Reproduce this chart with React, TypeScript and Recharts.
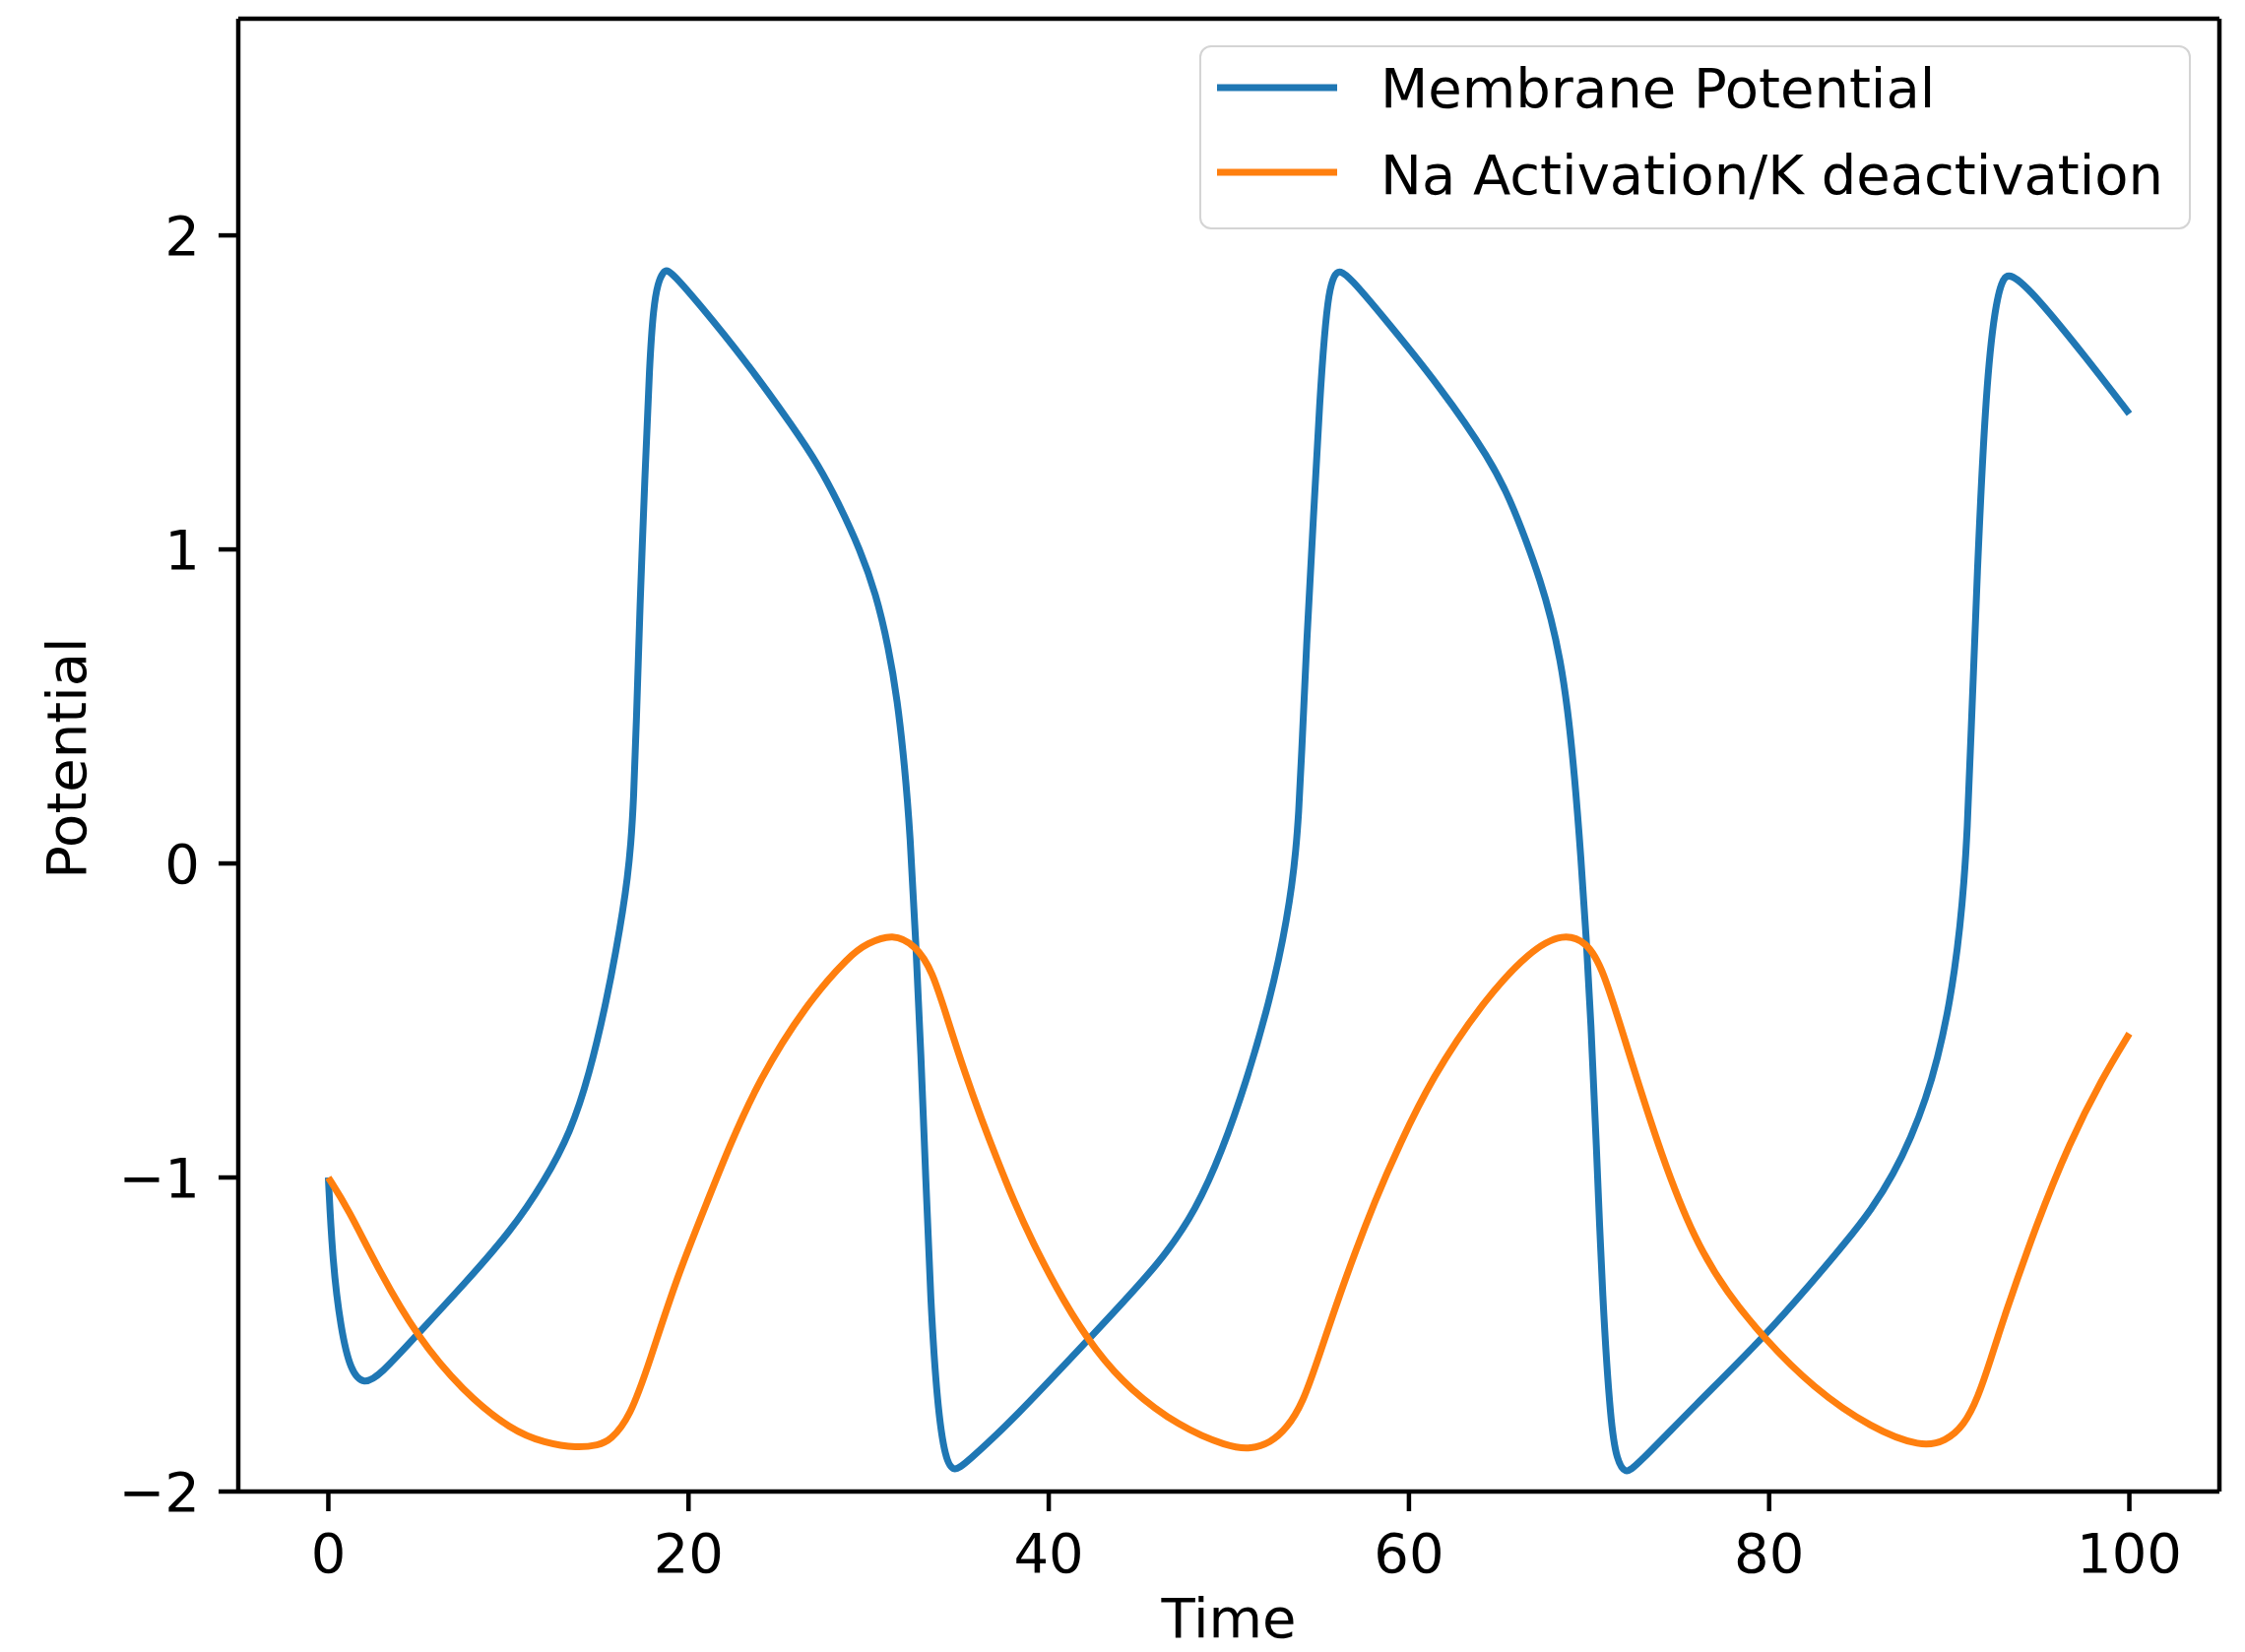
import React from 'react';
import { LineChart, Line, XAxis, YAxis, Legend, ReferenceLine } from 'recharts';

// values
const membraneTime = [
  0, 0.24, 0.69, 1.24, 1.97, 2.88, 4.89, 7.44, 10.18, 12.0, 13.46, 14.5, 15.4, 16.0, 16.35, 16.6, 16.8, 16.95, 17.1,
  17.3, 17.57, 17.84, 18.05, 18.3, 18.6, 18.85, 19.4, 20.4, 23.14, 25.87, 27.2, 28.4, 29.52, 30.4, 31.1, 31.6, 32.0,
  32.3, 32.62, 32.9, 33.17, 33.44, 33.81, 34.26, 34.72, 35.36, 38.1, 42.29, 46.3, 48.2, 49.6, 51.0, 52.15, 52.8,
  53.2, 53.5, 53.72, 53.88, 54.02, 54.33, 54.7, 55.06, 55.3, 55.55, 55.85, 56.16, 56.8, 58.17, 61.81, 64.55, 65.6,
  66.5, 67.3, 67.9, 68.4, 68.8, 69.2, 69.55, 69.85, 70.1, 70.39, 70.75, 71.21, 71.55, 72.0, 72.6, 75.86, 79.69,
  82.43, 84.2, 85.71, 86.9, 87.9, 88.7, 89.36, 89.9, 90.3, 90.6, 90.82, 91.0, 91.19, 91.55, 92.01, 92.46, 92.9,
  93.38, 94.84, 97.57, 100,
];
const membraneValue = [
  -1.0, -1.272, -1.482, -1.618, -1.66, -1.629, -1.503, -1.346, -1.168, -1.012, -0.855, -0.67, -0.45, -0.27, -0.15,
  -0.05, 0.06, 0.2, 0.44, 0.82, 1.22, 1.6, 1.77, 1.85, 1.885, 1.891, 1.86, 1.795, 1.603, 1.385, 1.27, 1.14, 1.0,
  0.86, 0.69, 0.52, 0.31, 0.1, -0.25, -0.6, -1.0, -1.397, -1.727, -1.9, -1.938, -1.912, -1.767, -1.51, -1.266, -1.1,
  -0.92, -0.69, -0.46, -0.3, -0.18, -0.07, 0.04, 0.16, 0.32, 0.72, 1.104, 1.488, 1.68, 1.82, 1.875, 1.891, 1.86,
  1.769, 1.513, 1.283, 1.16, 1.03, 0.9, 0.78, 0.65, 0.5, 0.28, 0.02, -0.24, -0.5, -0.87, -1.397, -1.793, -1.9,
  -1.945, -1.92, -1.727, -1.51, -1.33, -1.21, -1.1, -0.99, -0.87, -0.75, -0.62, -0.48, -0.34, -0.2, -0.06, 0.1, 0.38,
  0.93, 1.484, 1.742, 1.86, 1.884, 1.806, 1.613, 1.432,
];

const recoveryTime = [
  0, 1.06, 2.88, 4.89, 7.44, 10.18, 12.0, 13.83, 15.0, 15.65, 16.75, 17.84, 19.3, 21.13, 22.22, 23.9, 26.5, 29.0,
  29.88, 31.35, 32.62, 33.53, 34.4, 35.36, 36.3, 37.18, 38.1, 39.0, 40.83, 42.65, 44.48, 47.22, 49.96, 51.23, 52.3,
  53.2, 54.1, 55.0, 56.4, 58.2, 59.44, 61.26, 64.0, 66.74, 68.57, 69.84, 70.75, 72.21, 74.04, 75.86, 77.69, 79.69,
  82.43, 85.71, 88.45, 89.8, 90.82, 91.6, 92.3, 93.01, 94.84, 96.66, 98.49, 100,
];
const recoveryValue = [
  -1.0, -1.095, -1.304, -1.503, -1.68, -1.806, -1.845, -1.862, -1.852, -1.838, -1.764, -1.587, -1.325, -1.064,
  -0.907, -0.69, -0.45, -0.29, -0.256, -0.222, -0.262, -0.34, -0.5, -0.67, -0.82, -0.95, -1.08, -1.195, -1.397,
  -1.556, -1.674, -1.793, -1.858, -1.865, -1.845, -1.8, -1.72, -1.57, -1.33, -1.06, -0.9, -0.684, -0.447, -0.275,
  -0.222, -0.249, -0.328, -0.605, -0.935, -1.2, -1.37, -1.51, -1.67, -1.8, -1.859, -1.84, -1.79, -1.7, -1.58, -1.45,
  -1.149, -0.891, -0.684, -0.542,
];

const xTicks = [0, 20, 40, 60, 80, 100];
const yTicks = [-2, -1, 0, 1, 2];
const seriesNames = ['Membrane Potential', 'Na Activation/K deactivation'];
const seriesColors = ['#1f77b4', '#ff7f0e'];

const membraneData = membraneTime.map((t, i) => ({ t, v: membraneValue[i] }));
const recoveryData = recoveryTime.map((t, i) => ({ t, v: recoveryValue[i] }));

const FONT = "'DejaVu Sans', sans-serif";
const tickStyle = { fill: '#000', fontSize: 56, fontFamily: FONT };
const spine = { stroke: '#000', strokeWidth: 4.5 };

const minus = (v: number) => (v < 0 ? '\u2212' + Math.abs(v) : String(v));

const renderLegend = () => (
  <svg width={1008} height={188} style={{ display: 'block' }}>
    <rect x={1} y={1} width={1005} height={185} rx={11} ry={11} fill="rgba(255,255,255,0.8)" stroke="#d4d4d4" strokeWidth={2} />
    {seriesNames.map((name, i) => (
      <g key={name}>
        <line x1={18} x2={140} y1={43 + i * 86} y2={43 + i * 86} stroke={seriesColors[i]} strokeWidth={7} />
        <text x={184} y={63 + i * 88} fontSize={56} fontFamily={FONT} fill="#000">
          {name}
        </text>
      </g>
    ))}
  </svg>
);

export default function App() {
  return (
    <div style={{ position: 'absolute', left: 0, top: 0, width: 2280, height: 1678, background: '#fff' }}>
      <LineChart width={2280} height={1678} margin={{ top: 19, right: 26, bottom: 0, left: 0 }}>
        <XAxis
          dataKey="t"
          type="number"
          domain={[-5, 105]}
          ticks={xTicks}
          allowDataOverflow
          height={163}
          tickSize={20}
          tickMargin={22}
          axisLine={spine}
          tickLine={spine}
          tick={tickStyle}
          label={() => (
            <text x={1248} y={1663} textAnchor="middle" fontSize={56} fontFamily={FONT} fill="#000">
              Time
            </text>
          )}
        />
        <YAxis
          type="number"
          domain={[-2, 2.69]}
          ticks={yTicks}
          allowDataOverflow
          width={242}
          tickSize={20}
          tickMargin={19}
          axisLine={spine}
          tickLine={spine}
          tick={tickStyle}
          tickFormatter={minus}
          label={() => (
            <text x={87} y={770} transform="rotate(-90 87 770)" textAnchor="middle" fontSize={56} fontFamily={FONT} fill="#000">
              Potential
            </text>
          )}
        />
        <ReferenceLine y={2.69} stroke="#000" strokeWidth={4.5} />
        <ReferenceLine x={105} stroke="#000" strokeWidth={4.5} />
        <Legend
          layout="vertical"
          align="center"
          verticalAlign="middle"
          content={renderLegend}
          wrapperStyle={{ left: 1218, top: 46, width: 1008, height: 188 }}
        />
        <Line
          data={membraneData}
          dataKey="v"
          name={seriesNames[0]}
          type="basis"
          stroke={seriesColors[0]}
          strokeWidth={7}
          dot={false}
          activeDot={false}
          isAnimationActive={false}
        />
        <Line
          data={recoveryData}
          dataKey="v"
          name={seriesNames[1]}
          type="basis"
          stroke={seriesColors[1]}
          strokeWidth={7}
          dot={false}
          activeDot={false}
          isAnimationActive={false}
        />
      </LineChart>
    </div>
  );
}
